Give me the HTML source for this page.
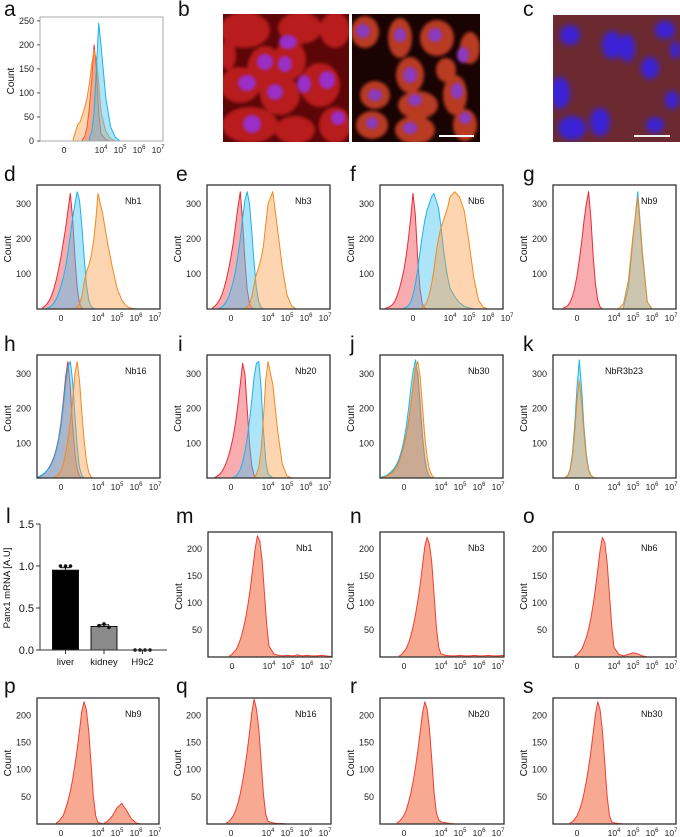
<!DOCTYPE html>
<html><head><meta charset="utf-8"><style>
body{margin:0;background:#fff}
svg{display:block;font-family:"Liberation Sans",sans-serif}
</style></head><body>
<svg id="fig" width="680" height="837" viewBox="0 0 680 837">
<defs>
<filter id="blur1" x="-20%" y="-20%" width="140%" height="140%"><feGaussianBlur stdDeviation="1.5"/></filter>
<filter id="blur3" x="-50%" y="-50%" width="200%" height="200%"><feGaussianBlur stdDeviation="3"/></filter>
<clipPath id="clipB1"><rect x="223" y="14" width="126" height="128"/></clipPath>
<clipPath id="clipB2"><rect x="352" y="14" width="128" height="128"/></clipPath>
<clipPath id="clipC"><rect x="553" y="15" width="127" height="127"/></clipPath>
</defs>
<g font-size="21" fill="#111">
<text x="4" y="16">a</text>
<text x="178" y="16">b</text>
<text x="523" y="16">c</text>
<text x="4" y="181">d</text>
<text x="176" y="181">e</text>
<text x="350" y="181">f</text>
<text x="523" y="181">g</text>
<text x="4" y="351">h</text>
<text x="178" y="351">i</text>
<text x="350" y="351">j</text>
<text x="523" y="351">k</text>
<text x="6" y="523">l</text>
<text x="176" y="523">m</text>
<text x="350" y="523">n</text>
<text x="523" y="523">o</text>
<text x="4" y="693">p</text>
<text x="176" y="693">q</text>
<text x="350" y="693">r</text>
<text x="523" y="693">s</text>
</g>
<g clip-path="url(#clipB1)">
<rect x="223" y="14" width="126" height="128" fill="#5c0608"/>
<g fill="#b81a1c" filter="url(#blur1)">
<ellipse cx="245" cy="30" rx="25" ry="18"/><ellipse cx="300" cy="28" rx="22" ry="16"/><ellipse cx="335" cy="30" rx="15" ry="18"/>
<ellipse cx="265" cy="70" rx="18" ry="24"/><ellipse cx="290" cy="60" rx="16" ry="20"/><ellipse cx="240" cy="85" rx="20" ry="18"/>
<ellipse cx="280" cy="95" rx="20" ry="20"/><ellipse cx="320" cy="85" rx="20" ry="22"/><ellipse cx="250" cy="125" rx="28" ry="18"/>
<ellipse cx="295" cy="130" rx="20" ry="14"/><ellipse cx="335" cy="125" rx="16" ry="18"/><ellipse cx="228" cy="55" rx="8" ry="15"/>
</g>
<g fill="#9a2fc8" filter="url(#blur1)">
<ellipse cx="288" cy="42" rx="9" ry="7"/><ellipse cx="265" cy="62" rx="8" ry="8"/><ellipse cx="285" cy="64" rx="7" ry="8"/>
<ellipse cx="247" cy="83" rx="9" ry="8"/><ellipse cx="275" cy="92" rx="8" ry="8"/><ellipse cx="304" cy="84" rx="7" ry="9"/>
<ellipse cx="327" cy="80" rx="8" ry="9"/><ellipse cx="252" cy="124" rx="9" ry="9"/><ellipse cx="338" cy="118" rx="7" ry="7"/>
</g>
</g>
<g clip-path="url(#clipB2)">
<rect x="352" y="14" width="128" height="128" fill="#1a0303"/>
<g fill="#b83a22" filter="url(#blur1)">
<ellipse cx="365" cy="32" rx="14" ry="16"/><ellipse cx="400" cy="38" rx="12" ry="20"/><ellipse cx="437" cy="38" rx="17" ry="18"/>
<ellipse cx="470" cy="48" rx="10" ry="16"/><ellipse cx="410" cy="75" rx="14" ry="18"/><ellipse cx="375" cy="95" rx="15" ry="14"/>
<ellipse cx="418" cy="105" rx="20" ry="14"/><ellipse cx="455" cy="95" rx="12" ry="20"/><ellipse cx="372" cy="125" rx="16" ry="14"/>
<ellipse cx="415" cy="130" rx="20" ry="14"/><ellipse cx="465" cy="125" rx="12" ry="16"/><ellipse cx="446" cy="70" rx="10" ry="12"/>
</g>
<g fill="#8a3ac0" filter="url(#blur1)">
<ellipse cx="363" cy="31" rx="7" ry="7"/><ellipse cx="400" cy="35" rx="6" ry="7"/><ellipse cx="435" cy="35" rx="7" ry="7"/>
<ellipse cx="410" cy="75" rx="7" ry="8"/><ellipse cx="375" cy="95" rx="7" ry="6"/><ellipse cx="415" cy="100" rx="7" ry="6"/>
<ellipse cx="457" cy="91" rx="6" ry="8"/><ellipse cx="372" cy="123" rx="6" ry="6"/><ellipse cx="410" cy="128" rx="7" ry="6"/>
<ellipse cx="465" cy="118" rx="6" ry="6"/><ellipse cx="463" cy="55" rx="6" ry="8"/>
</g>
<line x1="439" y1="136" x2="474" y2="136" stroke="#fff" stroke-width="2"/>
</g>
<g clip-path="url(#clipC)">
<rect x="553" y="15" width="127" height="127" fill="#6c2a30"/>
<g fill="#3a22d8" filter="url(#blur3)">
<ellipse cx="570" cy="35" rx="10" ry="10"/><ellipse cx="612" cy="45" rx="10" ry="14"/><ellipse cx="627" cy="48" rx="8" ry="14"/>
<ellipse cx="665" cy="30" rx="10" ry="9"/><ellipse cx="650" cy="68" rx="9" ry="11"/><ellipse cx="675" cy="50" rx="5" ry="9"/>
<ellipse cx="560" cy="93" rx="10" ry="16"/><ellipse cx="672" cy="100" rx="7" ry="9"/><ellipse cx="572" cy="128" rx="14" ry="12"/>
<ellipse cx="600" cy="122" rx="10" ry="14"/><ellipse cx="655" cy="125" rx="9" ry="8"/>
</g>
<line x1="634" y1="136" x2="670" y2="136" stroke="#eee" stroke-width="2"/>
</g>
<g id="charts"></g>
</svg>
<script>
// ---- histogram data (bin step 0.25 in display units; 0 = "0", 4 = 10^4, 5 = 10^5 ...) ----
const binStep = 0.25;
const xTickValues = [0, 4, 5, 6, 7];
const xTickExps = ["", "4", "5", "6", "7"];
const aYTicks = [0, 50, 100, 150, 200, 250];
const topYTicks = [100, 200, 300];
const lowYTicks = [50, 100, 150, 200];

const aRedStart = 2,  aRed = [3,10,30,70,130,200,150,60,15,3,0];
const aOrangeStart = 1, aOrange = [5,20,35,40,55,70,90,120,160,190,170,120,60,20,5,0];
const aBlueStart = 2.75, aBlue = [5,20,60,150,245,200,90,30,8,0];

const dRedStart = -2, dRed = [3,8,15,25,40,60,85,115,150,190,230,280,330,260,150,60,15,3,0];
const dBlueStart = -1.5, dBlue = [2,5,10,18,30,45,65,90,120,160,210,260,300,335,310,240,150,70,25,8,2,0];
const dOrangeStart = 1.5, dOrange = [2,6,15,35,75,105,125,150,190,250,330,270,190,120,60,25,8,2,0];

const eRedStart = -2, eRed = [3,8,15,25,40,60,85,115,150,190,240,290,335,250,140,55,15,3,0];
const eBlueStart = -1.25, eBlue = [2,6,12,22,35,55,80,110,150,200,260,310,335,300,220,130,60,20,5,0];
const eOrangeStart = 1.5, eOrange = [2,6,15,35,70,100,120,145,180,240,300,335,230,120,40,8,0];

const fRedStart = -3, fRed = [2,4,7,12,20,35,55,80,110,150,200,260,330,270,150,60,15,3,0];
const fBlueStart = -1, fBlue = [2,5,10,20,40,70,110,160,210,250,280,300,320,330,310,290,240,180,130,90,60,35,18,8,3,0];
const fOrangeStart = 1, fOrange = [5,10,20,40,70,110,160,200,230,250,270,290,320,335,320,280,190,90,25,5,0];

const gRedStart = -1.5, gRed = [2,5,10,20,35,60,95,140,190,250,300,335,260,150,70,25,6,0];
const gBlueStart = 4.5, gBlue = [5,60,200,335,160,20,0];
const gOrangeStart = 4.25, gOrange = [2,15,80,210,320,150,20,0];

const hRedStart = -2.5, hRed = [2,4,8,14,22,32,45,62,85,115,160,220,290,335,260,150,70,25,6,0];
const hBlueStart = -2.5, hBlue = [3,6,10,15,22,30,42,58,80,110,150,205,270,320,335,280,180,90,30,8,0];
const hOrangeStart = -0.75, hOrange = [2,5,10,20,40,70,110,160,220,300,335,280,190,110,50,15,3,0];

const iRedStart = -1.75, iRed = [2,5,10,18,30,45,65,90,120,160,210,270,330,300,200,100,35,8,0];
const iBlueStart = 0.25, iBlue = [2,5,12,25,45,75,115,165,225,290,330,335,260,140,50,12,0];
const iOrangeStart = 2.5, iOrange = [3,10,30,80,170,280,335,270,140,40,6,0];

const jRedStart = -2.25, jRed = [2,5,8,12,18,25,35,50,70,95,125,165,215,270,320,300,210,120,55,20,5,0];
const jBlueStart = -2.5, jBlue = [2,4,6,10,15,22,30,42,58,80,110,150,200,260,310,340,290,200,110,50,18,5,0];
const jOrangeStart = -2.25, jOrange = [2,4,7,11,16,24,34,48,68,92,122,162,212,268,318,335,290,205,120,60,25,8,0];

const kBlueStart = -1.25, kBlue = [2,8,25,70,150,260,340,260,150,70,25,8,2,0];
const kOrangeStart = -1.25, kOrange = [2,7,22,60,130,220,280,220,130,60,22,7,2,0];

const mStart = -0.25, mCounts = [2,5,10,15,25,38,55,75,100,130,165,200,225,215,180,120,60,20,6,3,2,3,2,4,2,3,2,2,3,2,1,2,0];
const nStart = -0.5, nCounts = [2,5,10,16,26,40,58,80,105,135,170,205,222,210,175,115,55,18,6,3,2,2,3,2,2,3,2,2,3,2,2,3,0];
const oStart = -0.25, oCounts = [2,4,9,14,24,36,52,72,98,128,162,198,222,212,176,118,58,18,5,2,5,8,6,2,0];
const pStart = -0.5, pCounts = [2,5,10,16,28,42,60,82,108,138,172,208,225,210,170,110,50,15,3,0,5,15,30,38,25,10,2,0];
const qStart = -0.5, qCounts = [2,4,9,15,25,38,56,78,104,134,168,205,230,212,176,116,56,18,5,2,1,1,0];
const rStart = -0.75, rCounts = [2,5,10,16,26,40,58,80,106,136,170,204,225,212,176,118,58,20,8,4,2,1,0];
const sStart = -0.75, sCounts = [2,4,9,15,25,38,56,78,104,134,168,203,225,210,172,112,52,16,4,2,1,0];

// ---- bar chart (panel l) data ----
const lCategories = ["liver", "kidney", "H9c2"];
const lMeans = [0.95, 0.28, 0.0];
const lErrors = [0.03, 0.02, 0.0];
const lPoints = [[1.0, 1.0, 1.0], [0.29, 0.31, 0.27], [0, 0, 0, 0]];
const lYTicks = [0.0, 0.5, 1.0, 1.5];
const lYTickLabels = ["0.0", "0.5", "1.0", "1.5"];

const NS = "http://www.w3.org/2000/svg";
const root = document.getElementById("charts");
function mk(tag, attrs, parent) {
  const e = document.createElementNS(NS, tag);
  for (const k in attrs) e.setAttribute(k, attrs[k]);
  (parent || root).appendChild(e);
  return e;
}
const COL = {
  red: {fill: "rgba(242,70,80,0.45)", stroke: "#ea2a36"},
  blue: {fill: "rgba(70,195,245,0.45)", stroke: "#18b4ee"},
  orange: {fill: "rgba(250,155,70,0.42)", stroke: "#f28a1e"},
  single: {fill: "rgba(246,140,110,0.75)", stroke: "#f03e34"}
};

function histPanel(cfg) {
  const g = mk("g", {});
  
  
  const L = cfg.x, T = cfg.y, W = cfg.w, H = cfg.h, sh = cfg.shift || 0;
  const xs = v => L + sh + (v <= 4 ? 24 + v * 9.25 : 61 + (v - 4) * 19);
  const ys = c => T + H - c * H / cfg.ymax;
  const clip = "clip-" + cfg.name;
  const cp = mk("clipPath", {id: clip}, g);
  mk("rect", {x: L, y: T, width: W, height: H}, cp);
  const sg = mk("g", {"clip-path": "url(#" + clip + ")"}, g);
  cfg.series.forEach(s => {
    const pts = [];
    pts.push([xs(s.start), ys(0)]);
    s.counts.forEach((c, i) => pts.push([xs(s.start + i * binStep), ys(c)]));
    pts.push([xs(s.start + (s.counts.length - 1) * binStep), ys(0)]);
    const d = "M" + pts.map(p => p[0].toFixed(1) + "," + p[1].toFixed(1)).join("L") + "Z";
    const p = mk("path", {d: d, fill: COL[s.color].fill, stroke: COL[s.color].stroke, "stroke-width": 1, "stroke-linejoin": "round"}, sg);
    
    
  });
  const box = mk("rect", {x: L, y: T, width: W, height: H, fill: "none", stroke: cfg.boxColor || "#333", "stroke-width": cfg.boxColor ? 1 : 1.3}, g);
  
  
  cfg.yticks.forEach(t => {
    const tx = mk("text", {x: L - 6, y: ys(t) + 3, "font-size": 9, "text-anchor": "end", fill: "#222"}, g);
    tx.textContent = t;
    
    
    if (cfg.tickMarks) mk("line", {x1: L - 3, x2: L, y1: ys(t), y2: ys(t), stroke: "#555"}, g);
  });
  xTickValues.forEach((v, i) => {
    const tx = mk("text", {x: xs(v), y: T + H + 12, "font-size": 8.5, "text-anchor": "middle", fill: "#222"}, g);
    
    
    if (xTickExps[i] === "") tx.textContent = "0";
    else {
      tx.textContent = "10";
      const sp = mk("tspan", {dy: -4, "font-size": 6}, tx);
      sp.textContent = xTickExps[i];
    }
  });
  const cy = T + H / 2 + 2;
  const yl = mk("text", {x: L - 26, y: cy, "font-size": 10, "text-anchor": "middle", transform: "rotate(-90 " + (L - 26) + " " + cy + ")", fill: "#111"}, g);
  yl.textContent = "Count";
  
  
  if (cfg.label) {
    const lb = mk("text", {x: L + (cfg.labelX || 88), y: T + 19, "font-size": 9, fill: "#111"}, g);
    lb.textContent = cfg.label;
    
    
  }
}
const S = (color, start, counts) => ({color, start, counts});
const cols = [37, 207, 380, 553];
const W = 123;

histPanel({name: "panel-a", x: 40, y: 17, w: 123, h: 124, ymax: 258, yticks: aYTicks, boxColor: "#aaa", tickMarks: true,
  series: [S("red", aRedStart, aRed), S("orange", aOrangeStart, aOrange), S("blue", aBlueStart, aBlue)]});
histPanel({name: "panel-d", x: cols[0], y: 185, w: W, h: 124, ymax: 354, yticks: topYTicks, label: "Nb1",
  series: [S("red", dRedStart, dRed), S("blue", dBlueStart, dBlue), S("orange", dOrangeStart, dOrange)]});
histPanel({name: "panel-e", x: cols[1], y: 185, w: W, h: 124, ymax: 354, yticks: topYTicks, label: "Nb3",
  series: [S("red", eRedStart, eRed), S("blue", eBlueStart, eBlue), S("orange", eOrangeStart, eOrange)]});
histPanel({name: "panel-f", x: cols[2], y: 185, w: W, h: 124, ymax: 354, yticks: topYTicks, label: "Nb6", shift: 9,
  series: [S("red", fRedStart, fRed), S("blue", fBlueStart, fBlue), S("orange", fOrangeStart, fOrange)]});
histPanel({name: "panel-g", x: cols[3], y: 185, w: W, h: 124, ymax: 354, yticks: topYTicks, label: "Nb9",
  series: [S("red", gRedStart, gRed), S("blue", gBlueStart, gBlue), S("orange", gOrangeStart, gOrange)]});
histPanel({name: "panel-h", x: cols[0], y: 355, w: W, h: 123, ymax: 354, yticks: topYTicks, label: "Nb16",
  series: [S("red", hRedStart, hRed), S("blue", hBlueStart, hBlue), S("orange", hOrangeStart, hOrange)]});
histPanel({name: "panel-i", x: cols[1], y: 355, w: W, h: 123, ymax: 354, yticks: topYTicks, label: "Nb20",
  series: [S("red", iRedStart, iRed), S("blue", iBlueStart, iBlue), S("orange", iOrangeStart, iOrange)]});
histPanel({name: "panel-j", x: cols[2], y: 355, w: W, h: 123, ymax: 354, yticks: topYTicks, label: "Nb30",
  series: [S("red", jRedStart, jRed), S("blue", jBlueStart, jBlue), S("orange", jOrangeStart, jOrange)]});
histPanel({name: "panel-k", x: cols[3], y: 355, w: W, h: 123, ymax: 354, yticks: topYTicks, label: "NbR3b23", labelX: 52,
  series: [S("blue", kBlueStart, kBlue), S("orange", kOrangeStart, kOrange)]});
histPanel({name: "panel-m", x: 208, y: 532, w: 124, h: 125, ymax: 232, yticks: lowYTicks, label: "Nb1", series: [S("single", mStart, mCounts)]});
histPanel({name: "panel-n", x: cols[2], y: 532, w: 124, h: 125, ymax: 232, yticks: lowYTicks, label: "Nb3", series: [S("single", nStart, nCounts)]});
histPanel({name: "panel-o", x: cols[3], y: 532, w: 123, h: 125, ymax: 232, yticks: lowYTicks, label: "Nb6", series: [S("single", oStart, oCounts)]});
histPanel({name: "panel-p", x: cols[0], y: 698, w: 122, h: 126, ymax: 232, yticks: lowYTicks, label: "Nb9", series: [S("single", pStart, pCounts)]});
histPanel({name: "panel-q", x: cols[1], y: 698, w: 124, h: 126, ymax: 232, yticks: lowYTicks, label: "Nb16", series: [S("single", qStart, qCounts)]});
histPanel({name: "panel-r", x: cols[2], y: 698, w: 124, h: 126, ymax: 232, yticks: lowYTicks, label: "Nb20", series: [S("single", rStart, rCounts)]});
histPanel({name: "panel-s", x: cols[3], y: 698, w: 123, h: 126, ymax: 232, yticks: lowYTicks, label: "Nb30", series: [S("single", sStart, sCounts)]});

// ---- panel l bar chart ----
(function () {
  const g = mk("g", {});
  
  
  const X0 = 40, X1 = 167, Y0 = 650, ppu = 84;
  const yv = v => Y0 - v * ppu;
  const catX = i => 65.5 + i * 38.5;
  const bw = 26;
  const barFills = ["#000", "#8a8a8a", "#fff"];
  lCategories.forEach((c, i) => {
    const cx = catX(i);
    if (lMeans[i] > 0.005) {
      const r = mk("rect", {x: cx - bw / 2, y: yv(lMeans[i]), width: bw, height: Y0 - yv(lMeans[i]), fill: barFills[i], stroke: "#111", "stroke-width": 1}, g);
      
      
    }
    if (lErrors[i] > 0) {
      mk("line", {x1: cx, x2: cx, y1: yv(lMeans[i] + lErrors[i]), y2: yv(lMeans[i]), stroke: "#111"}, g);
      mk("line", {x1: cx - 5, x2: cx + 5, y1: yv(lMeans[i] + lErrors[i]), y2: yv(lMeans[i] + lErrors[i]), stroke: "#111"}, g);
    }
    const pts = lPoints[i];
    pts.forEach((v, j) => {
      const dx = (j - (pts.length - 1) / 2) * 5;
      const d = mk("circle", {cx: cx + dx, cy: yv(v), r: 1.8, fill: "#111"}, g);
      
      
    });
    mk("line", {x1: cx, x2: cx, y1: Y0, y2: Y0 + 4, stroke: "#333"}, g);
    const t = mk("text", {x: cx, y: Y0 + 15, "font-size": 9.5, "text-anchor": "middle", fill: "#111"}, g);
    t.textContent = c;
    
    
  });
  mk("line", {x1: X0, x2: X0, y1: yv(1.5), y2: Y0, stroke: "#333"}, g);
  mk("line", {x1: X0, x2: X1, y1: Y0, y2: Y0, stroke: "#333"}, g);
  lYTicks.forEach((v, i) => {
    mk("line", {x1: X0 - 4, x2: X0, y1: yv(v), y2: yv(v), stroke: "#333"}, g);
    const t = mk("text", {x: X0 - 6, y: yv(v) + 4, "font-size": 11, "text-anchor": "end", fill: "#111"}, g);
    t.textContent = lYTickLabels[i];
    
    
  });
  const yl = mk("text", {x: 10, y: 588, "font-size": 9.5, "text-anchor": "middle", transform: "rotate(-90 10 588)", fill: "#111"}, g);
  yl.textContent = "Panx1 mRNA [A.U]";
  
  
})();
</script>
</body></html>
